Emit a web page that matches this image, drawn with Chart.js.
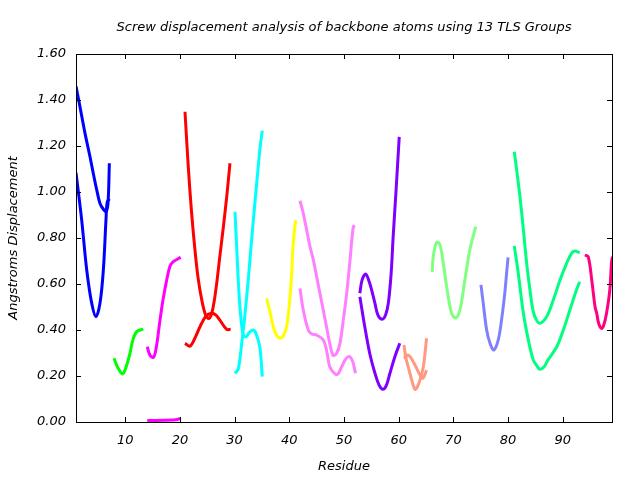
<!DOCTYPE html>
<html>
<head>
<meta charset="utf-8">
<title>Screw displacement analysis</title>
<script src="https://cdn.jsdelivr.net/npm/chart.js@4.4.1/dist/chart.umd.min.js"></script>
<style>
  html, body { margin: 0; padding: 0; background: #fff; }
  canvas { display: block; }
</style>
</head>
<body>
<canvas id="screwChart" width="640" height="480"></canvas>
<script>
(function () {
  'use strict';

  // residue ticks and displacement ticks
  const residueTicks = [10, 20, 30, 40, 50, 60, 70, 80, 90];
  const yStep = 0.2;

  // [residue, displacement], two curves per TLS group
  const g1a = [[1.0,1.46],[1.73,1.37],[2.65,1.255],[3.56,1.153],[4.17,1.08],[4.78,1.01],[5.39,0.95],[6.0,0.925],[6.5,0.915],[6.85,0.95],[7.1,1.125]];
  const g1b = [[1.0,1.084],[2.04,0.878],[2.96,0.661],[3.87,0.517],[4.66,0.458],[5.39,0.517],[6.0,0.661],[6.48,0.878],[6.7,0.955],[7.1,0.97]];
  const g2a = [[7.95,0.277],[8.68,0.235],[9.54,0.209],[10.1,0.235],[10.87,0.299],[11.4,0.357],[12.1,0.393],[13.3,0.404]];
  const g3a = [[14.03,0.327],[14.5,0.291],[15.13,0.281],[15.6,0.313],[16.36,0.443],[16.9,0.53],[17.58,0.617],[18.2,0.678],[18.8,0.697],[20.14,0.716]];
  const g3b = [[14.03,0.006],[18.8,0.009],[19.5,0.011],[20.14,0.016]];
  const g4a = [[20.93,1.349],[21.5,1.12],[22.1,0.92],[22.7,0.76],[23.3,0.63],[24.0,0.53],[24.7,0.465],[25.3,0.45],[25.9,0.48],[26.6,0.58],[27.3,0.72],[28.0,0.86],[28.6,0.99],[29.15,1.125]];
  const g4b = [[20.93,0.342],[21.84,0.33],[22.75,0.365],[23.67,0.414],[24.77,0.461],[25.8,0.473],[26.6,0.465],[27.3,0.443],[28.55,0.403],[29.28,0.403]];
  const g5a = [[30.07,0.914],[30.49,0.704],[30.8,0.56],[31.16,0.45],[31.58,0.38],[32.1,0.37],[32.7,0.39],[33.4,0.40],[33.9,0.385],[34.6,0.327],[35.06,0.197]];
  const g5b = [[30.07,0.212],[30.67,0.23],[31.3,0.342],[31.9,0.47],[32.5,0.62],[33.1,0.79],[33.7,0.95],[34.2,1.08],[34.64,1.19],[35.06,1.267]];
  const g6a = [[35.86,0.538],[36.47,0.478],[37.07,0.414],[37.65,0.378],[38.3,0.364],[38.9,0.374],[39.5,0.414],[40.0,0.509],[40.4,0.632],[40.73,0.78],[41.16,0.878]];
  const g7a = [[41.95,0.962],[42.5,0.913],[43.17,0.835],[43.8,0.761],[44.4,0.704],[45.0,0.632],[45.6,0.56],[46.2,0.487],[46.8,0.414],[47.4,0.342],[48.0,0.29],[48.66,0.299],[49.26,0.342],[49.87,0.443],[50.5,0.56],[51.1,0.704],[51.7,0.849],[52.0,0.853]];
  const g7b = [[41.95,0.581],[42.55,0.487],[43.47,0.40],[44.1,0.383],[45.0,0.378],[46.2,0.357],[46.8,0.313],[47.4,0.24],[48.35,0.209],[48.9,0.209],[49.57,0.24],[50.2,0.27],[50.8,0.284],[51.3,0.278],[51.7,0.255],[52.1,0.212]];
  const g8a = [[52.9,0.56],[53.3,0.617],[53.96,0.643],[54.7,0.603],[55.66,0.516],[56.2,0.465],[57.0,0.447],[57.6,0.465],[58.1,0.516],[58.6,0.64],[59.0,0.81],[59.5,1.0],[59.85,1.14],[60.1,1.24]];
  const g8b = [[52.9,0.545],[53.8,0.414],[54.7,0.299],[55.66,0.212],[56.4,0.161],[57.07,0.142],[57.7,0.157],[58.4,0.212],[59.3,0.284],[60.2,0.342]];
  const g9a = [[60.96,0.335],[61.33,0.277],[61.9,0.226],[62.37,0.183],[62.97,0.142],[63.4,0.152],[63.9,0.183],[64.5,0.24],[65.1,0.364]];
  const g9b = [[60.96,0.277],[61.75,0.291],[62.66,0.262],[63.58,0.219],[64.4,0.19],[65.1,0.226]];
  const g10a = [[66.14,0.653],[66.32,0.719],[66.94,0.781],[67.55,0.77],[68.15,0.69],[68.77,0.588],[69.5,0.487],[69.9,0.461],[70.5,0.453],[71.2,0.487],[72.1,0.617],[73.0,0.748],[74.1,0.849]];
  const g11a = [[75.04,0.596],[75.46,0.516],[76.08,0.40],[76.7,0.342],[77.4,0.313],[78.2,0.357],[78.8,0.443],[79.4,0.56],[79.7,0.64],[80.0,0.716]];
  const g12a = [[81.13,1.175],[81.57,1.096],[82.17,0.98],[82.8,0.835],[83.4,0.69],[84.0,0.574],[84.6,0.48],[85.2,0.443],[85.8,0.429],[87.05,0.458],[88.26,0.53],[89.5,0.617],[90.7,0.69],[91.6,0.733],[92.2,0.743],[93.1,0.736]];
  const g12b = [[81.13,0.765],[81.86,0.647],[82.8,0.473],[83.7,0.357],[84.6,0.27],[85.3,0.243],[85.8,0.229],[86.55,0.239],[87.3,0.27],[88.9,0.327],[90.1,0.40],[91.3,0.487],[92.5,0.574],[93.1,0.61]];
  const g13a = [[94.05,0.726],[94.65,0.719],[95.3,0.617],[95.9,0.501],[96.2,0.473],[96.6,0.426],[97.1,0.407],[97.5,0.422],[98.0,0.473],[98.6,0.574],[98.9,0.69],[99.1,0.719]];

  const groups = [
    { color: '#0000ff', curves: [g1a, g1b] },
    { color: '#00ff00', curves: [g2a] },
    { color: '#ff00ff', curves: [g3a, g3b] },
    { color: '#ff0000', curves: [g4a, g4b] },
    { color: '#00ffff', curves: [g5a, g5b] },
    { color: '#ffff00', curves: [g6a] },
    { color: '#ff80ff', curves: [g7a, g7b] },
    { color: '#8000ff', curves: [g8a, g8b] },
    { color: '#ff9980', curves: [g9a, g9b] },
    { color: '#80ff80', curves: [g10a] },
    { color: '#8080ff', curves: [g11a] },
    { color: '#00ff80', curves: [g12a, g12b] },
    { color: '#ff0080', curves: [g13a] }
  ];

  const datasets = [];
  groups.forEach((g, i) => {
    g.curves.forEach(c => {
      datasets.push({
        label: 'TLS ' + (i + 1),
        data: c,
        borderColor: g.color,
        backgroundColor: g.color,
        borderWidth: 3,
        pointRadius: 0,
        showLine: true,
        tension: 0.35
      });
    });
  });

  const font = { family: 'DejaVu Sans', size: 13, style: 'italic', weight: 'normal' };

  // gnuplot-style frame with inward, mirrored tick marks
  const framePlugin = {
    id: 'frame',
    afterDraw(chart) {
      const { ctx, chartArea: a, scales } = chart;
      const tl = 5;
      ctx.save();
      ctx.strokeStyle = '#000';
      ctx.lineWidth = 1;
      ctx.strokeRect(a.left + 0.5, a.top + 0.5, a.right - a.left, a.bottom - a.top);
      ctx.beginPath();
      scales.x.ticks.forEach(t => {
        const px = Math.round(scales.x.getPixelForValue(t.value)) + 0.5;
        ctx.moveTo(px, a.bottom); ctx.lineTo(px, a.bottom - tl);
        ctx.moveTo(px, a.top); ctx.lineTo(px, a.top + tl);
      });
      scales.y.ticks.forEach(t => {
        if (t.value <= 0 || t.value >= 1.6) return;
        const py = Math.round(scales.y.getPixelForValue(t.value)) + 0.5;
        ctx.moveTo(a.left, py); ctx.lineTo(a.left + tl, py);
        ctx.moveTo(a.right, py); ctx.lineTo(a.right - tl, py);
      });
      ctx.stroke();
      ctx.restore();
    }
  };

  const ctx = document.getElementById('screwChart').getContext('2d');
  new Chart(ctx, {
    type: 'scatter',
    data: { datasets: datasets },
    plugins: [framePlugin],
    options: {
      responsive: false,
      animation: false,
      layout: { padding: { right: 28 } },
      plugins: {
        legend: { display: false },
        tooltip: { enabled: false },
        title: {
          display: true,
          fullSize: false,
          text: 'Screw displacement analysis of backbone atoms using 13 TLS Groups',
          color: '#000',
          font: font,
          padding: { top: 20, bottom: 18.4 }
        }
      },
      scales: {
        x: {
          type: 'linear',
          min: 1,
          max: 99,
          grid: { display: false, drawTicks: false },
          border: { display: false },
          afterBuildTicks: s => { s.ticks = residueTicks.map(v => ({ value: v })); },
          afterFit: s => { s.height = 58; },
          ticks: { color: '#000', font: font, padding: 11, maxRotation: 0 },
          title: { display: true, text: 'Residue', color: '#000', font: font, padding: { top: 0, bottom: 6 } }
        },
        y: {
          type: 'linear',
          min: 0,
          max: 1.6,
          grid: { display: false, drawTicks: false },
          border: { display: false },
          afterFit: s => { s.width = 76; },
          ticks: {
            stepSize: yStep,
            color: '#000',
            font: font,
            padding: 10,
            callback: v => Number(v).toFixed(2)
          },
          title: { display: true, text: 'Angstroms Displacement', color: '#000', font: font, padding: { top: 6, bottom: 0 } }
        }
      }
    }
  });
})();
</script>
</body>
</html>
